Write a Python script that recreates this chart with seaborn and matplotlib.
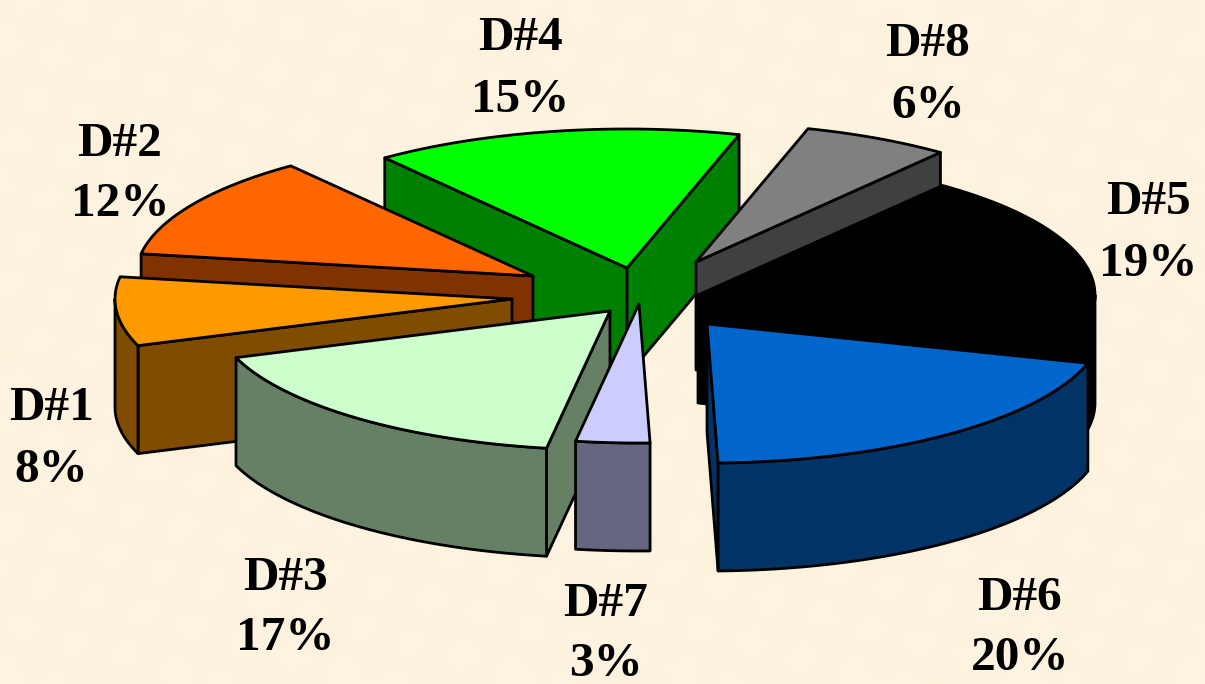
# -*- coding: utf-8 -*-
"""Exploded 3D style pie of the D#1 - D#8 shares, drawn on a parchment background."""
import numpy as np
import pandas as pd
import matplotlib
matplotlib.use("Agg")
import matplotlib.pyplot as plt
from matplotlib.patches import Polygon
import seaborn as sns

# data, clockwise as the slices sit in the pie
names = ["D#4", "D#8", "D#5", "D#6", "D#7", "D#3", "D#1", "D#2"]
shares = [15, 6, 19, 20, 3, 17, 8, 12]
top_colors = ["#00FF00", "#808080", "#000000", "#0066CC",
              "#CCCCFF", "#CCFFCC", "#FF9900", "#FF6600"]

# layout (pixels)
W, H = 1205, 684
start_angle = 232.4  # where D#4 begins, clockwise from 3 o'clock
rx, ry = 397, 139  # radii of the ellipse
depth = 108
centre_x, centre_y = 640, 290
explode_x = [-13, 56, 58, 67, -1, -30, -128, -107]
explode_y = [-22, -28, 5, 34, 14, 21, 9, -14]
draw_order = ["D#4", "D#8", "D#2", "D#1", "D#5", "D#3", "D#7", "D#6"]
label_x = [520, 928, 1148, 1020, 606, 285, 51, 120]
label_y = [69, 75, 233, 628, 634, 608, 439, 174]

sns.set_theme(style="white")
plt.rcParams["font.family"] = ["Liberation Serif", "DejaVu Serif"]

df = pd.DataFrame({"name": names, "share": shares, "dx": explode_x, "dy": explode_y,
                   "lx": label_x, "ly": label_y})
df["top"] = sns.color_palette(top_colors)
df["side"] = [tuple(0.5 * c for c in col) for col in df["top"]]
df["t0"] = start_angle + df["share"].cumsum().shift(fill_value=0) * 3.6
df["t1"] = df["t0"] + df["share"] * 3.6
df = df.set_index("name")

fig = plt.figure(figsize=(W / 100, H / 100), dpi=100)
ax = fig.add_axes([0, 0, 1, 1])
ax.set_xlim(0, W)
ax.set_ylim(H, 0)
ax.axis("off")

# parchment texture
xx, yy = np.meshgrid(np.arange(0, W, 14), np.arange(0, H, 14))
tex = (np.sin(xx * 0.11 + yy * 0.05) + np.sin(xx * 0.037 - yy * 0.13)
       + np.sin(xx * 0.29 + yy * 0.23)) / 3
bg = np.dstack([np.full(tex.shape, 0.993) + tex * 0.004,
                0.952 + tex * 0.012,
                0.875 + tex * 0.025])
ax.imshow(np.clip(bg, 0, 1), extent=[0, W, H, 0], aspect="auto",
          interpolation="bicubic", zorder=0)


def rim(row, a, b):
    t = np.radians(np.linspace(a, b, max(int(abs(b - a)) * 2, 2)))
    x = centre_x + row["dx"] + rx * np.cos(t)
    y = centre_y + row["dy"] + ry * np.sin(t)
    return np.column_stack([x, y])


def add_poly(pts, color, z):
    ax.add_patch(Polygon(pts, closed=True, facecolor=color, edgecolor="black",
                         linewidth=2, joinstyle="round", zorder=z))


z = 1
for name in draw_order:
    row = df.loc[name]
    apex = np.array([[centre_x + row["dx"], centre_y + row["dy"]]])
    drop = np.array([0, depth])

    # flat cut faces, only those turned towards the viewer
    if np.cos(np.radians(row["t0"])) < 0:
        edge = np.vstack([apex, rim(row, row["t0"], row["t0"])[:1]])
        add_poly(np.vstack([edge, edge[::-1] + drop]), row["side"], z)
    if np.cos(np.radians(row["t1"])) > 0:
        edge = np.vstack([apex, rim(row, row["t1"], row["t1"])[:1]])
        add_poly(np.vstack([edge, edge[::-1] + drop]), row["side"], z)

    # curved outer wall, front half of the ellipse only
    for k in (0, 360):
        a, b = max(row["t0"], k), min(row["t1"], k + 180)
        if b > a:
            arc = rim(row, a, b)
            add_poly(np.vstack([arc, arc[::-1] + drop]), row["side"], z)

    # top face
    add_poly(np.vstack([apex, rim(row, row["t0"], row["t1"])]), row["top"], z)
    z += 1

for name, row in df.iterrows():
    ax.text(row["lx"], row["ly"], f"{name}\n{row['share']}%", ha="center", va="center",
            fontsize=35.5, fontweight="bold", color="black", linespacing=1.5, zorder=20)

sns.despine(ax=ax, left=True, bottom=True)
fig.savefig("out.png", dpi=100)
